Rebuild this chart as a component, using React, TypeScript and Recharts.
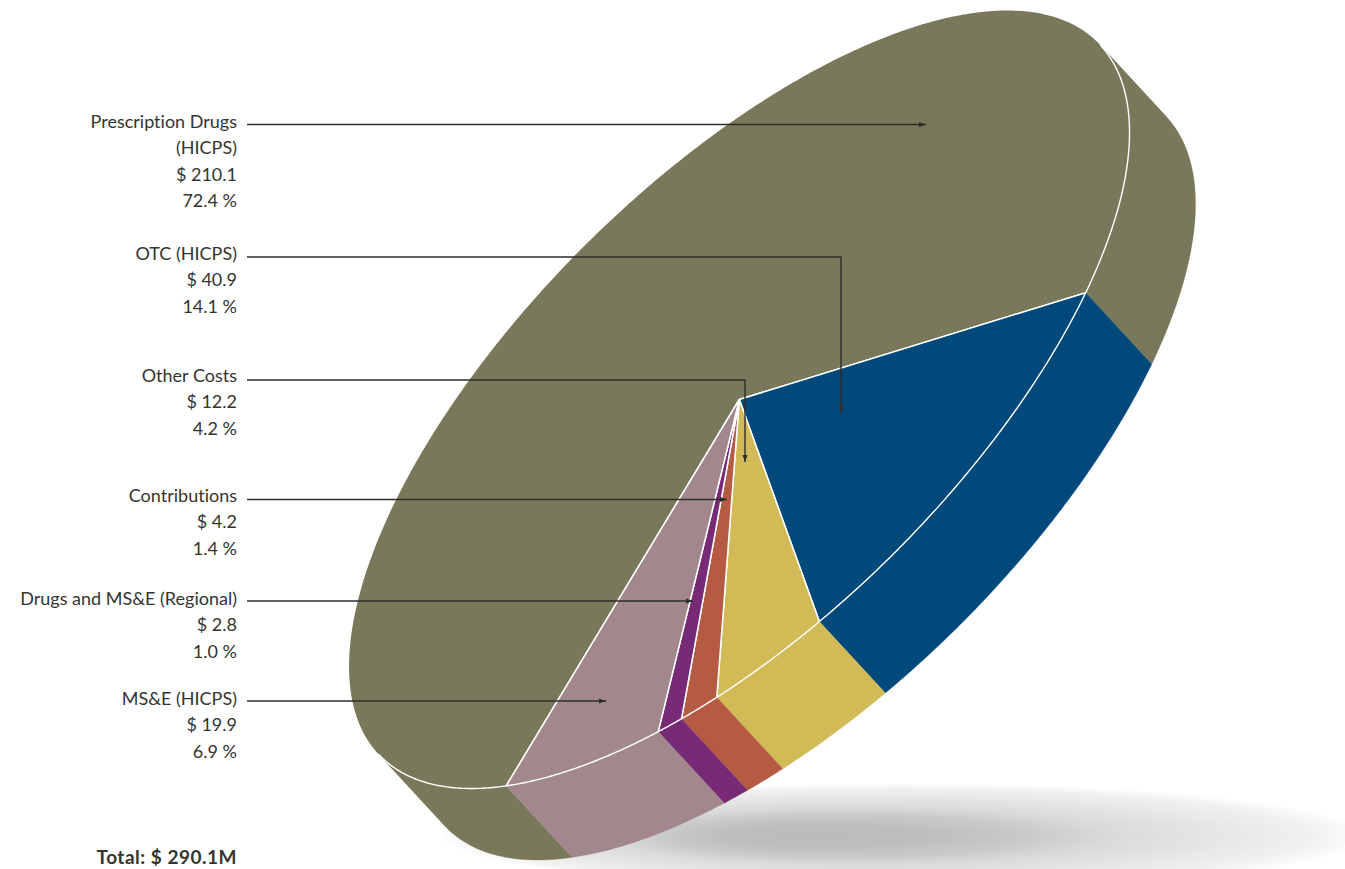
import React from 'react';
import { PieChart, Pie, Cell } from 'recharts';

const segmentNames = ['Prescription Drugs', 'OTC (HICPS)', 'Other Costs', 'Contributions', 'Drugs and MS&E (Regional)', 'MS&E (HICPS)'];
const amounts = [210.1, 40.9, 12.2, 4.2, 2.8, 19.9];
const shareLabels = ['72.4 %', '14.1 %', '4.2 %', '1.4 %', '1.0 %', '6.9 %'];
const segmentColors = ['#79785a', '#00497a', '#d2bb57', '#b55b44', '#772a76', '#a2878c'];
const totalLabel = 'Total: $ 290.1M';

const chartData = segmentNames.map((name, i) => ({ name, value: amounts[i] }));

// extra line under the first label only
const nameLines = [['Prescription Drugs', '(HICPS)'], ['OTC (HICPS)'], ['Other Costs'], ['Contributions'], ['Drugs and MS&E (Regional)'], ['MS&E (HICPS)']];

const WIDTH = 1345;
const HEIGHT = 869;
const CX = 739.3;
const CY = 399.5;
const RADIUS = 100;

// Oblique projection of the pie's circle: unit axes per radius, then the extrusion vector
const AXIS_A = [3.465, -1.07];
const AXIS_B = [-1.795, 3.74];
const DEPTH = [66, 71.5];

// Where the side wall starts being visible, in screen-clockwise degrees
const cross = (u: number[], v: number[]) => u[0] * v[1] - u[1] * v[0];
const WALL_START = (Math.atan2(cross(AXIS_B, DEPTH), cross(AXIS_A, DEPTH)) * 180) / Math.PI;

const LABEL_RIGHT = 237;
const LEADER_LEFT = 247;
const LINE_HEIGHT = 26.3;
const labelBaselines = [128, 260, 382, 502, 605, 705];
const leaders: { y: number; endX: number; endY?: number }[] = [
  { y: 124.5, endX: 926 },
  { y: 257, endX: 841, endY: 413 },
  { y: 380, endX: 745, endY: 462 },
  { y: 499.5, endX: 727 },
  { y: 601, endX: 693 },
  { y: 701, endX: 606 },
];

const LABEL_FONT = 'Lato, "Open Sans", sans-serif';
const TEXT_COLOR = '#35342f';

const project = (cx: number, cy: number, r: number, deg: number) => {
  const t = (deg * Math.PI) / 180;
  return [
    cx + r * (AXIS_A[0] * Math.cos(t) + AXIS_B[0] * Math.sin(t)),
    cy + r * (AXIS_A[1] * Math.cos(t) + AXIS_B[1] * Math.sin(t)),
  ];
};

const arcPoints = (cx: number, cy: number, r: number, from: number, to: number) => {
  const steps = Math.max(2, Math.ceil(Math.abs(to - from) * 2));
  return Array.from({ length: steps + 1 }, (_, i) => project(cx, cy, r, from + ((to - from) * i) / steps));
};

const toPath = (pts: number[][]) => pts.map((p, i) => `${i ? 'L' : 'M'}${p[0].toFixed(2)} ${p[1].toFixed(2)}`).join(' ');

// Draws a slice as an elliptical top face plus the part of its wall that faces the viewer
function ObliqueSlice(props: any) {
  const { cx, cy, outerRadius, startAngle, endAngle, fill } = props;
  const from = -startAngle;
  const to = -endAngle;
  const top = arcPoints(cx, cy, outerRadius, from, to);
  const walls: number[][] = [];
  [-360, 0, 360].forEach((shift) => {
    const a = Math.max(from, WALL_START + shift);
    const b = Math.min(to, WALL_START + 180 + shift);
    if (b > a) walls.push([a, b]);
  });
  return (
    <g>
      {walls.map(([a, b]) => {
        const rim = arcPoints(cx, cy, outerRadius, a, b);
        const low = rim.map((p) => [p[0] + DEPTH[0], p[1] + DEPTH[1]]).reverse();
        return <path key={a} d={toPath([...rim, ...low]) + ' Z'} fill={fill} stroke={fill} strokeWidth={0.3} />;
      })}
      <path d={toPath([[cx, cy], ...top]) + ' Z'} fill={fill} stroke="none" />
      {walls.map(([a, b]) => (
        <path key={a} d={toPath(arcPoints(cx, cy, outerRadius, a, b))} fill="none" stroke="#fff" strokeWidth={1.4} />
      ))}
      <path d={toPath([top[0], [cx, cy], top[top.length - 1]])} fill="none" stroke="#fff" strokeWidth={1.5} strokeLinejoin="bevel" />
    </g>
  );
}

function SliceLabel({ index }: any) {
  const lines = [...nameLines[index], `$ ${amounts[index].toFixed(1)}`, shareLabels[index]];
  const lead = leaders[index];
  const down = lead.endY !== undefined;
  const tipX = lead.endX;
  const tipY = down ? (lead.endY as number) : lead.y;
  const route = down
    ? `M${LEADER_LEFT} ${lead.y} H${tipX} V${tipY}`
    : `M${LEADER_LEFT} ${lead.y} H${tipX}`;
  const head = down
    ? `${tipX - 2.5},${tipY - 7} ${tipX + 2.5},${tipY - 7} ${tipX},${tipY}`
    : `${tipX - 7},${tipY - 2.5} ${tipX - 7},${tipY + 2.5} ${tipX},${tipY}`;
  return (
    <g>
      <text textAnchor="end" fontFamily={LABEL_FONT} fontSize={18} fill={TEXT_COLOR} style={{ fontVariantLigatures: 'none' }}>
        {lines.map((line, i) => (
          <tspan key={i} x={LABEL_RIGHT} y={labelBaselines[index] + i * LINE_HEIGHT}>
            {line}
          </tspan>
        ))}
      </text>
      <path d={route} fill="none" stroke="#2f2e2a" strokeWidth={1.4} />
      <polygon points={head} fill="#2f2e2a" />
    </g>
  );
}

export default function App() {
  return (
    <div style={{ position: 'absolute', left: 0, top: 0, width: WIDTH, height: HEIGHT, overflow: 'hidden', background: '#fff' }}>
      <PieChart width={WIDTH} height={HEIGHT} margin={{ top: 0, right: 0, bottom: 0, left: 0 }}>
        <defs>
          <radialGradient id="groundShadow" fx={0.39} fy={0.5}>
            <stop offset="0" stopColor="#bbbcbe" />
            <stop offset="0.2" stopColor="#bcbdbf" />
            <stop offset="0.4" stopColor="#c9cacc" />
            <stop offset="0.54" stopColor="#d9dadb" />
            <stop offset="0.9" stopColor="#f1f1f1" />
            <stop offset="1" stopColor="#ffffff" />
          </radialGradient>
        </defs>
        <ellipse cx={905} cy={836} rx={465} ry={53} fill="url(#groundShadow)" />
        <Pie
          data={chartData}
          dataKey="value"
          nameKey="name"
          cx={CX}
          cy={CY}
          innerRadius={0}
          outerRadius={RADIUS}
          startAngle={-99.3}
          endAngle={-459.3}
          stroke="none"
          isAnimationActive={false}
          shape={ObliqueSlice}
          activeShape={ObliqueSlice}
          inactiveShape={ObliqueSlice}
          label={SliceLabel}
          labelLine={false}
        >
          {segmentColors.map((color) => (
            <Cell key={color} fill={color} />
          ))}
        </Pie>
        <text x={LABEL_RIGHT} y={864} textAnchor="end" fontFamily={LABEL_FONT} fontSize={19} fontWeight={700} letterSpacing={0.5} fill={TEXT_COLOR}>
          {totalLabel}
        </text>
      </PieChart>
    </div>
  );
}
